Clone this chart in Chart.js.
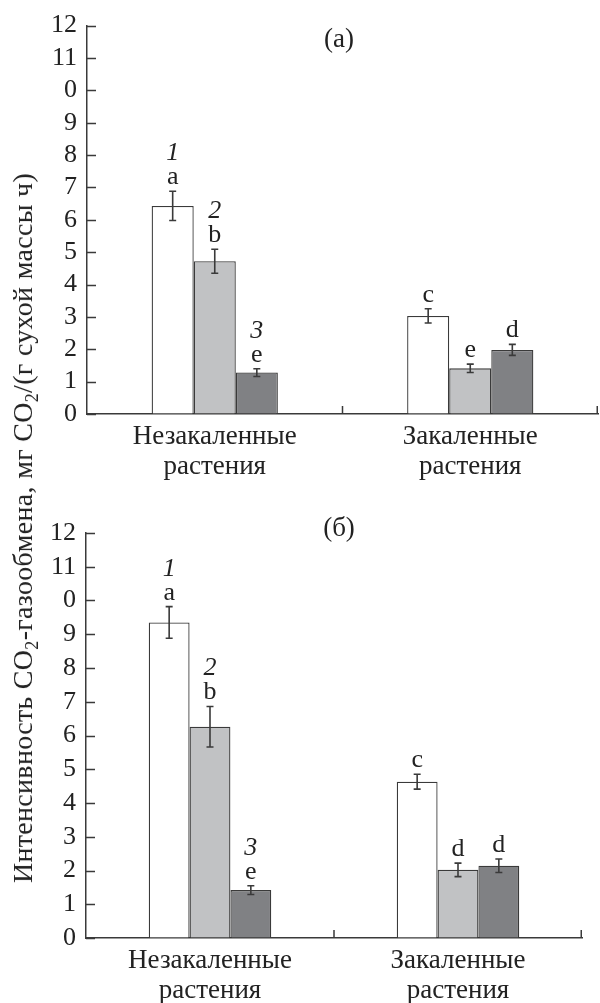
<!DOCTYPE html>
<html>
<head>
<meta charset="utf-8">
<script src="https://cdn.jsdelivr.net/npm/chart.js@4.4.1/dist/chart.umd.min.js"></script>
<style>
  html, body { margin: 0; padding: 0; background: #fff; }
  #page { position: relative; width: 600px; height: 1003px; overflow: hidden; }
  #chartA { position: absolute; left: 0; top: 0; }
  #chartB { position: absolute; left: 0; top: 500px; }
  #ytitle {
    position: absolute; left: 23px; top: 528px;
    transform: translate(-50%, -50%) rotate(-90deg);
    white-space: nowrap; color: #222; letter-spacing: 0.3px;
    font: 28px/28px 'Liberation Serif', 'DejaVu Serif', serif;
  }
  #ytitle sub { font-size: 18px; line-height: 0; vertical-align: -6px; }
</style>
</head>
<body>
<div id="page">
  <canvas id="chartA" width="600" height="500"></canvas>
  <canvas id="chartB" width="600" height="503"></canvas>
  <div id="ytitle">Интенсивность CO<sub>2</sub>-газообмена, мг CO<sub>2</sub>/(г сухой массы ч)</div>
</div>
<script>
// ---- data ----
const categories = [['Незакаленные', 'растения'], ['Закаленные', 'растения']];
const yTickLabels = ['0', '1', '2', '3', '4', '5', '6', '7', '8', '9', '0', '11', '12'];
const seriesNumbers = ['1', '2', '3'];

// panel (а)
const panelATitle = '(а)';
const a1 = [6.43, 3.03];
const a2 = [4.72, 1.41];
const a3 = [1.28, 1.98];
const a1Err = [0.45, 0.22];
const a2Err = [0.37, 0.13];
const a3Err = [0.12, 0.17];
const a1Letters = ['a', 'c'];
const a2Letters = ['b', 'e'];
const a3Letters = ['e', 'd'];

// panel (б)
const panelBTitle = '(б)';
const b1 = [9.35, 4.63];
const b2 = [6.26, 2.02];
const b3 = [1.42, 2.14];
const b1Err = [0.47, 0.22];
const b2Err = [0.60, 0.20];
const b3Err = [0.13, 0.20];
const b1Letters = ['a', 'c'];
const b2Letters = ['b', 'd'];
const b3Letters = ['e', 'd'];

// ---- styling ----
const FONT = "'Liberation Serif', 'DejaVu Serif', 'Times New Roman', serif";
const INK = '#3a3a3a';
const FILLS = ['#ffffff', '#c1c2c4', '#808184'];

// error bars, significance letters, series numbers, inward axis ticks, panel title
const annotate = {
  id: 'annotate',
  afterDatasetsDraw(chart, args, opts) {
    const ctx = chart.ctx;
    const ys = chart.scales.y;
    const xs = chart.scales.x;
    const area = chart.chartArea;
    ctx.save();
    ctx.strokeStyle = INK;
    ctx.fillStyle = '#222';
    ctx.lineWidth = 1.6;
    chart.data.datasets.forEach((ds, di) => {
      const meta = chart.getDatasetMeta(di);
      meta.data.forEach((bar, i) => {
        const v = ds.data[i], e = ds.errors[i];
        const yt = ys.getPixelForValue(v + e);
        const yb = ys.getPixelForValue(v - e);
        ctx.beginPath();
        ctx.moveTo(bar.x, yt); ctx.lineTo(bar.x, yb);
        ctx.moveTo(bar.x - 3.5, yt); ctx.lineTo(bar.x + 3.5, yt);
        ctx.moveTo(bar.x - 3.5, yb); ctx.lineTo(bar.x + 3.5, yb);
        ctx.stroke();
        ctx.textAlign = 'center';
        ctx.textBaseline = 'alphabetic';
        ctx.font = '26px ' + FONT;
        ctx.fillText(ds.letters[i], bar.x, yt - 7);
        if (i === 0) {
          ctx.font = 'italic 26px ' + FONT;
          ctx.fillText(ds.number, bar.x, yt - 31);
        }
      });
    });
    // y ticks pointing into the plot
    ctx.lineWidth = 1.5;
    ctx.beginPath();
    ys.ticks.forEach((t, k) => {
      const py = Math.round(ys.getPixelForTick(k)) + 0.5;
      ctx.moveTo(area.left, py); ctx.lineTo(area.left + 9, py);
    });
    // x boundary ticks between and after categories
    const mid = (xs.getPixelForValue(0) + xs.getPixelForValue(1)) / 2;
    [mid, area.right - 0.75].forEach(px => {
      ctx.moveTo(px, area.bottom); ctx.lineTo(px, area.bottom - 8);
    });
    ctx.stroke();
    // panel title
    ctx.font = '27px ' + FONT;
    ctx.textAlign = 'center';
    ctx.textBaseline = 'alphabetic';
    ctx.fillText(opts.text, opts.x, opts.y);
    ctx.restore();
  }
};

function makeChart(id, values, errors, letters, title, geom) {
  const datasets = values.map((vals, k) => ({
    data: vals,
    errors: errors[k],
    letters: letters[k],
    number: seriesNumbers[k],
    backgroundColor: FILLS[k],
    borderColor: INK,
    borderWidth: 1.3,
    barPercentage: 1.0,
    categoryPercentage: 0.494
  }));
  return new Chart(document.getElementById(id), {
    type: 'bar',
    data: { labels: categories, datasets },
    options: {
      responsive: false,
      animation: false,
      devicePixelRatio: 1,
      layout: { padding: { top: geom.top, right: geom.right, left: 0, bottom: 0 } },
      plugins: {
        legend: { display: false },
        tooltip: { enabled: false },
        annotate: { text: title, x: 339, y: geom.titleY }
      },
      scales: {
        x: {
          grid: { display: true, drawOnChartArea: false, drawTicks: false },
          border: { display: true, color: INK, width: 1.5 },
          ticks: {
            color: '#222', padding: 8,
            font: { family: FONT, size: 27, lineHeight: 1.12 }
          },
          afterFit: s => { s.height = geom.xHeight; }
        },
        y: {
          min: 0, max: 12,
          grid: { display: true, drawOnChartArea: false, drawTicks: false },
          border: { display: true, color: INK, width: 1.5 },
          ticks: {
            stepSize: 1, autoSkip: false, color: '#222', padding: 10,
            font: { family: FONT, size: 26, lineHeight: 1.2 },
            callback: v => yTickLabels[v]
          },
          afterFit: s => { s.width = geom.yWidth; }
        }
      }
    },
    plugins: [annotate]
  });
}

makeChart('chartA', [a1, a2, a3], [a1Err, a2Err, a3Err], [a1Letters, a2Letters, a3Letters], panelATitle,
  { top: 23, right: 2, xHeight: 86, yWidth: 87, titleY: 47 });
makeChart('chartB', [b1, b2, b3], [b1Err, b2Err, b3Err], [b1Letters, b2Letters, b3Letters], panelBTitle,
  { top: 33, right: 18, xHeight: 65, yWidth: 86, titleY: 36 });
</script>
</body>
</html>
